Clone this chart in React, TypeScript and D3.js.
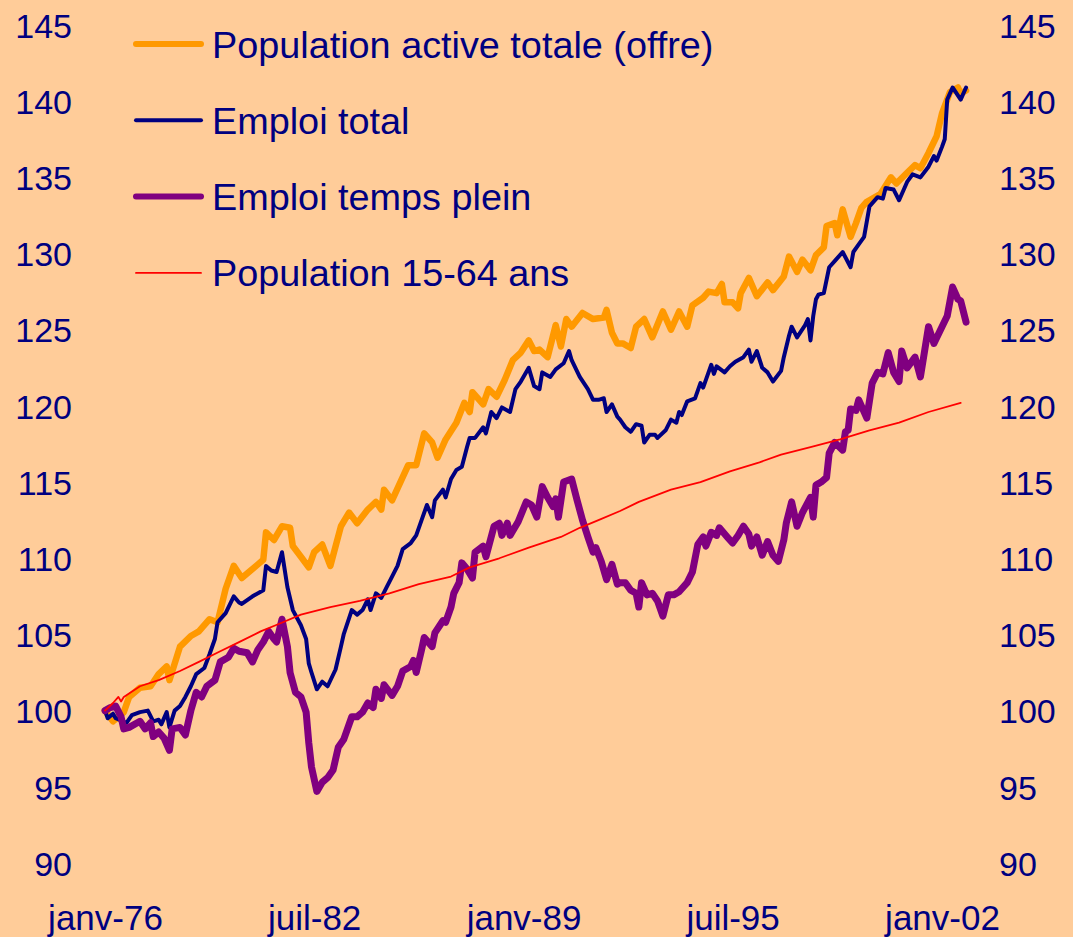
import React, { useEffect, useRef } from 'react';
import * as d3 from 'd3';

// [months since janv-76, index (janv-76 = 100)]
const populationActive: [number, number][] = [
  [0, 100], [3, 99.3], [7, 99.9], [9, 100.9], [13, 101.5], [17, 101.6], [20, 102.4], [23, 102.9], [24, 102.0],
  [28, 104.2], [32, 104.9], [35, 105.2], [39, 106.0], [42, 105.8], [45, 108.0], [48, 109.5], [51, 108.7],
  [57, 109.6], [59, 109.9], [60, 111.7], [63, 111.2], [66, 112.1], [69, 112.0], [70, 110.8], [73, 110.1],
  [76, 109.4], [78, 110.4], [81, 110.9], [84, 109.5], [88, 112.1], [91, 113.0], [94, 112.3], [98, 113.2],
  [101, 113.7], [103, 113.2], [104, 114.5], [107, 113.8], [113, 116.1], [116, 116.1], [119, 118.2], [122, 117.6],
  [124, 116.6], [127, 117.8], [131, 118.9], [134, 120.2], [136, 119.6], [137, 120.9], [141, 120.1], [143, 121.1],
  [146, 120.6], [149, 121.7], [152, 123.0], [155, 123.5], [158, 124.3], [160, 123.6], [162, 123.7], [165, 123.2],
  [168, 125.3], [170, 123.9], [172, 125.7], [174, 125.2], [178, 126.1], [182, 125.7], [186, 125.8], [187, 126.3],
  [189, 124.8], [191, 124.1], [193, 124.1], [196, 123.8], [198, 125.2], [201, 125.7], [204, 124.5], [208, 126.2],
  [211, 125.0], [214, 126.2], [217, 125.2], [219, 126.6], [223, 127.1], [225, 127.5], [228, 127.4], [230, 128.0],
  [231, 126.8], [234, 126.8], [236, 126.4], [237, 127.4], [240, 128.4], [243, 127.2], [247, 128.1], [249, 127.6],
  [253, 128.5], [255, 129.8], [258, 128.8], [260, 129.6], [263, 128.9], [265, 129.9], [268, 130.4], [269, 131.8],
  [272, 132.0], [273, 131.2], [275, 132.9], [278, 131.1], [280, 132.0], [282, 133.0], [284, 133.4], [289, 133.9],
  [293, 135.0], [295, 134.6], [299, 135.3], [302, 135.8], [304, 135.6], [307, 136.6], [310, 137.7], [312, 139.2],
  [315, 140.6], [318, 140.9], [319, 140.5], [321, 140.7],
];

const emploiTotal: [number, number][] = [
  [0, 100], [1, 99.5], [3, 99.8], [4, 99.5], [8, 99.2], [10, 99.7], [13, 99.9], [16, 100.0], [18, 99.3],
  [20, 99.4], [21, 99.1], [23, 99.9], [24, 98.9], [26, 100.0], [28, 100.3], [30, 100.9], [32, 101.6], [34, 102.4],
  [37, 102.8], [39, 103.7], [41, 104.7], [42, 105.8], [45, 106.4], [48, 107.5], [50, 107.1], [51, 107.0],
  [55, 107.5], [59, 107.9], [60, 109.5], [62, 109.2], [64, 109.1], [66, 110.4], [68, 108.1], [70, 106.6],
  [73, 105.6], [75, 104.7], [76, 103.1], [77, 102.5], [79, 101.4], [81, 101.9], [83, 101.6], [86, 102.7],
  [88, 104.2], [89, 105.0], [92, 106.6], [94, 106.3], [96, 106.6], [98, 107.3], [99, 106.6], [101, 107.7],
  [103, 107.4], [105, 108.1], [107, 108.8], [109, 109.5], [111, 110.6], [114, 111.0], [116, 111.5], [118, 112.5],
  [120, 113.5], [122, 112.7], [123, 113.8], [126, 114.5], [127, 114.0], [129, 115.2], [131, 115.8], [133, 116.0],
  [135, 117.3], [136, 117.9], [138, 117.9], [141, 118.6], [142, 118.2], [144, 119.6], [146, 119.2], [148, 119.9],
  [151, 119.6], [153, 121.1], [155, 121.6], [158, 122.5], [160, 121.3], [162, 121.1], [163, 122.2], [166, 121.9],
  [168, 122.4], [171, 122.8], [173, 123.6], [174, 123.0], [177, 121.9], [180, 121.1], [182, 120.4], [184, 120.4],
  [186, 120.5], [187, 119.6], [189, 120.1], [191, 119.3], [192, 119.1], [194, 118.6], [196, 118.3], [198, 118.8],
  [200, 118.7], [201, 117.6], [203, 118.1], [205, 118.1], [206, 117.9], [209, 118.4], [211, 119.1], [213, 118.9],
  [214, 119.6], [215, 119.4], [217, 120.3], [220, 120.5], [222, 121.5], [223, 121.2], [225, 122.2], [226, 122.7],
  [227, 122.1], [228, 122.6], [231, 122.2], [233, 122.6], [235, 122.9], [238, 123.2], [240, 123.7], [241, 122.9],
  [243, 123.6], [245, 122.5], [247, 122.2], [249, 121.6], [252, 122.3], [253, 123.2], [255, 124.6], [256, 125.2],
  [258, 124.5], [261, 125.3], [262, 125.7], [263, 124.3], [264, 125.9], [265, 127.0], [266, 127.3], [268, 127.4],
  [270, 129.1], [272, 129.5], [275, 130.1], [278, 129.1], [279, 130.1], [281, 130.6], [283, 131.1], [285, 133.1],
  [288, 133.7], [290, 133.6], [291, 134.3], [294, 134.2], [296, 133.5], [299, 134.7], [301, 135.2], [304, 135.0],
  [307, 135.7], [309, 136.4], [310, 136.1], [312, 137.0], [313, 137.5], [314, 140.1], [316, 140.9], [319, 140.1],
  [321, 140.9],
];

const emploiTempsPlein: [number, number][] = [
  [0, 100], [2, 100.2], [4, 100.3], [6, 99.6], [7, 98.8], [9, 98.9], [13, 99.3], [15, 98.8], [17, 99.2],
  [18, 98.3], [20, 98.6], [22, 98.2], [24, 97.4], [25, 98.8], [28, 98.9], [30, 98.4], [32, 100.0], [34, 101.2],
  [36, 100.9], [38, 101.6], [41, 102.0], [43, 103.2], [46, 103.5], [48, 104.1], [50, 103.9], [53, 103.8],
  [55, 103.2], [57, 104.0], [59, 104.5], [61, 105.2], [63, 104.7], [64, 104.5], [66, 106.0], [68, 104.2],
  [69, 102.5], [71, 101.2], [73, 100.9], [75, 99.9], [76, 97.9], [77, 96.3], [79, 94.7], [81, 95.3], [83, 95.6],
  [85, 96.1], [87, 97.6], [89, 98.1], [92, 99.6], [94, 99.6], [96, 99.9], [98, 100.5], [100, 100.2], [101, 101.4],
  [103, 100.8], [104, 101.7], [107, 101.0], [109, 101.6], [111, 102.6], [114, 102.9], [115, 103.3], [116, 102.5],
  [118, 104.0], [119, 104.8], [122, 104.2], [123, 105.1], [126, 105.9], [127, 105.8], [129, 106.8], [130, 107.7],
  [132, 108.4], [133, 109.7], [135, 109.3], [137, 108.7], [138, 110.4], [141, 110.8], [142, 110.1], [145, 112.1],
  [147, 112.3], [148, 111.5], [150, 112.3], [151, 111.5], [154, 112.4], [157, 113.7], [159, 113.5], [161, 112.7],
  [163, 114.7], [165, 114.0], [167, 113.4], [168, 113.9], [169, 112.7], [171, 115.0], [174, 115.2], [176, 113.8],
  [178, 112.5], [180, 111.4], [182, 110.4], [183, 110.7], [185, 109.8], [187, 108.6], [189, 109.6], [191, 108.3],
  [192, 108.4], [194, 108.4], [196, 107.9], [198, 107.7], [199, 106.8], [200, 108.4], [202, 107.6], [204, 107.7],
  [206, 107.2], [208, 106.2], [210, 107.6], [212, 107.6], [214, 107.8], [217, 108.4], [219, 109.1], [221, 110.9],
  [223, 111.4], [224, 110.8], [226, 111.7], [228, 111.5], [229, 112.0], [232, 111.4], [234, 111.0], [236, 111.5],
  [238, 112.1], [240, 111.6], [241, 110.8], [243, 111.4], [245, 110.2], [247, 111.1], [249, 110.2], [251, 109.8],
  [253, 111.2], [254, 112.3], [256, 113.7], [258, 112.1], [260, 113.0], [263, 114.0], [264, 112.7], [265, 114.8],
  [267, 115.0], [269, 115.3], [270, 116.9], [272, 117.6], [275, 117.1], [276, 118.3], [277, 118.4], [278, 119.8],
  [280, 119.7], [281, 120.4], [284, 119.2], [286, 121.5], [288, 122.2], [290, 122.1], [292, 123.5], [294, 122.2],
  [296, 121.6], [297, 123.6], [299, 122.5], [302, 123.2], [304, 121.9], [307, 125.2], [309, 124.1], [312, 125.2],
  [314, 125.9], [316, 127.8], [318, 127.0], [319, 126.9], [321, 125.5],
];

const population1564: [number, number][] = [
  [0, 100], [3, 100.5], [5, 100.9], [6, 100.6], [7, 100.9], [13, 101.6], [20, 102.0], [28, 102.6], [35, 103.2],
  [43, 103.9], [50, 104.5], [58, 105.2], [65, 105.7], [73, 106.3], [84, 106.8], [95, 107.2], [106, 107.7],
  [117, 108.3], [129, 108.8], [136, 109.4], [147, 110.0], [158, 110.7], [170, 111.4], [177, 112.0], [184, 112.5],
  [192, 113.1], [199, 113.7], [211, 114.5], [222, 115.0], [233, 115.7], [244, 116.3], [252, 116.8], [263, 117.3],
  [274, 117.8], [285, 118.4], [296, 118.9], [307, 119.6], [319, 120.2],
];

const yTicks = [90, 95, 100, 105, 110, 115, 120, 125, 130, 135, 140, 145];
const xTickMonths = [0, 78, 156, 234, 312];
const xTickLabels = ['janv-76', 'juil-82', 'janv-89', 'juil-95', 'janv-02'];

const series = [
  { name: 'Population active totale (offre)', data: populationActive, color: '#FF9900', width: 6.5 },
  { name: 'Emploi total', data: emploiTotal, color: '#000080', width: 4 },
  { name: 'Emploi temps plein', data: emploiTempsPlein, color: '#800080', width: 7 },
  { name: 'Population 15-64 ans', data: population1564, color: '#FF0000', width: 1.8 },
];

const W = 1073;
const H = 937;
const START = new Date(1976, 0, 1);
const FONT = "'Liberation Sans', Arial, sans-serif";
const NAVY = '#000080';

export default function App() {
  const svgRef = useRef<SVGSVGElement>(null);

  useEffect(() => {
    if (!svgRef.current) return;
    const svg = d3.select(svgRef.current);
    svg.selectAll('*').remove();

    const monthDate = (m: number) => d3.timeMonth.offset(START, m);
    const x = d3.scaleTime().domain([START, new Date(2002, 0, 1)]).range([105, 942]);
    const y = d3.scaleLinear().domain([90, 145]).range([863, 25]);

    svg.append('rect').attr('width', W).attr('height', H).attr('fill', '#FFCC99');

    // y labels, both sides
    const left = svg.append('g').attr('transform', 'translate(72,0)')
      .call(d3.axisLeft(y).tickValues(yTicks).tickSize(0).tickPadding(0));
    const right = svg.append('g').attr('transform', 'translate(999,0)')
      .call(d3.axisRight(y).tickValues(yTicks).tickSize(0).tickPadding(0));
    [left, right].forEach(g => {
      g.select('.domain').remove();
      g.selectAll('text').attr('font-family', FONT).attr('font-size', 34).attr('fill', NAVY).attr('dy', '0.36em');
    });

    // x labels
    const bottom = svg.append('g').attr('transform', 'translate(0,930)')
      .call(d3.axisBottom(x)
        .tickValues(xTickMonths.map(monthDate))
        .tickFormat((_, i) => xTickLabels[i])
        .tickSize(0).tickPadding(0));
    bottom.select('.domain').remove();
    bottom.selectAll('text').attr('font-family', FONT).attr('font-size', 35).attr('fill', NAVY).attr('dy', 0).attr('y', 0);

    const line = d3.line<[number, number]>()
      .x(d => x(monthDate(d[0])))
      .y(d => y(d[1]));

    series.forEach(s => {
      svg.append('path')
        .datum(s.data)
        .attr('d', line)
        .attr('fill', 'none')
        .attr('stroke', s.color)
        .attr('stroke-width', s.width)
        .attr('stroke-linejoin', 'round')
        .attr('stroke-linecap', 'round');
    });

    // legend
    const legend = svg.append('g');
    series.forEach((s, i) => {
      const ly = 44 + i * 76.3;
      legend.append('line')
        .attr('x1', 136).attr('x2', 201).attr('y1', ly).attr('y2', ly)
        .attr('stroke', s.color).attr('stroke-width', Math.min(s.width, 6)).attr('stroke-linecap', 'round');
      legend.append('text')
        .attr('x', 212).attr('y', ly + 13.5)
        .attr('font-family', FONT).attr('font-size', 37.8).attr('fill', NAVY)
        .text(s.name);
    });
  }, []);

  return (
    <svg ref={svgRef} width={W} height={H} style={{ position: 'absolute', left: 0, top: 0 }} />
  );
}
